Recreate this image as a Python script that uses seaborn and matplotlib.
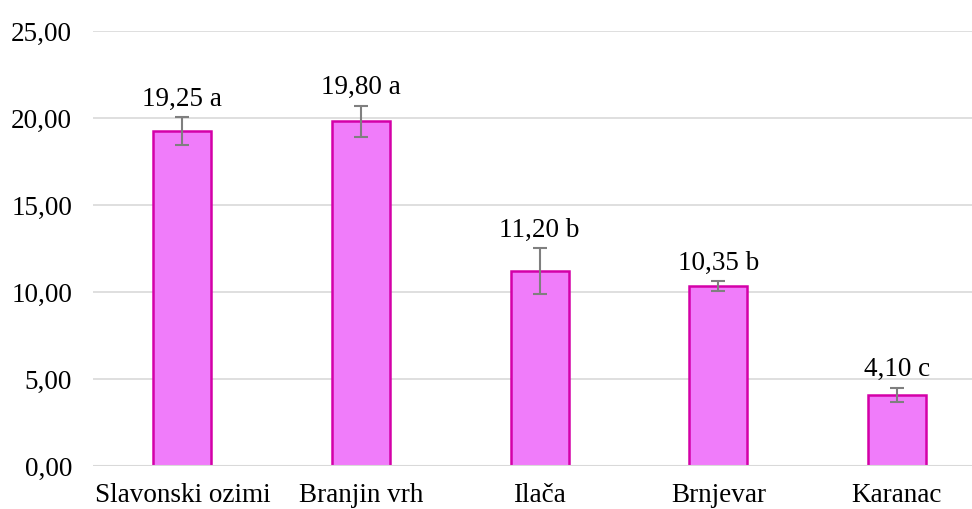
"""
plot.py
Bar chart of mean values per location with error bars and significance letters
"""
import pandas as pd
import matplotlib
matplotlib.use('Agg')
import matplotlib.pyplot as plt
import seaborn as sns

locations = ['Slavonski ozimi', 'Branjin vrh', 'Ilača', 'Brnjevar', 'Karanac']
means = [19.25, 19.80, 11.20, 10.35, 4.10]
errors = [0.80, 0.90, 1.33, 0.27, 0.40]
letters = ['a', 'a', 'b', 'b', 'c']
y_ticks = [0, 5, 10, 15, 20, 25]

df = pd.DataFrame({'Location': locations, 'Mean': means, 'Err': errors, 'Letter': letters})

sns.set_style('white')
plt.rcParams['font.family'] = ['Liberation Serif', 'DejaVu Serif']
plt.rcParams['text.color'] = 'black'
plt.rcParams['xtick.color'] = 'black'
plt.rcParams['ytick.color'] = 'black'

FS = 19.5

fig = plt.figure(figsize=(9.72, 5.09), dpi=100)
ax = fig.add_axes([93 / 972, 43 / 509, 1 - 93 / 972, 435 / 509])

sns.barplot(data=df, x='Location', y='Mean', ax=ax, width=0.325,
            color='#f07cfa', edgecolor='#d400a8', linewidth=1.8, saturation=1, zorder=3)
ax.errorbar(range(len(df)), df['Mean'], yerr=df['Err'], fmt='none',
            ecolor='#7f7f7f', elinewidth=1.5, capsize=5, capthick=1.5, zorder=4)
# baseline sits on top of the bar bottoms, like the original
ax.axhline(0, color='#d9d9d9', linewidth=1.5, zorder=5)

for i, row in df.iterrows():
    label = f"{row['Mean']:.2f}".replace('.', ',') + ' ' + row['Letter']
    ax.annotate(label, (i, row['Mean'] + row['Err']), xytext=(0, 4),
                textcoords='offset points', ha='center', va='bottom', fontsize=FS)

ax.set_ylim(0, 25)
ax.set_xlim(-0.5, 4.42)
ax.set_yticks(y_ticks)
ax.set_yticklabels([f'{v:.2f}'.replace('.', ',') for v in y_ticks])
ax.yaxis.grid(True, color='#d9d9d9', linewidth=1.2, zorder=0)
ax.set_axisbelow(True)
for spine in ax.spines.values():
    spine.set_visible(False)
ax.tick_params(axis='both', length=0, labelsize=FS)
ax.tick_params(axis='y', pad=15)
ax.tick_params(axis='x', pad=12)
ax.set_xlabel('')
ax.set_ylabel('')

fig.savefig('out.png', dpi=100)
